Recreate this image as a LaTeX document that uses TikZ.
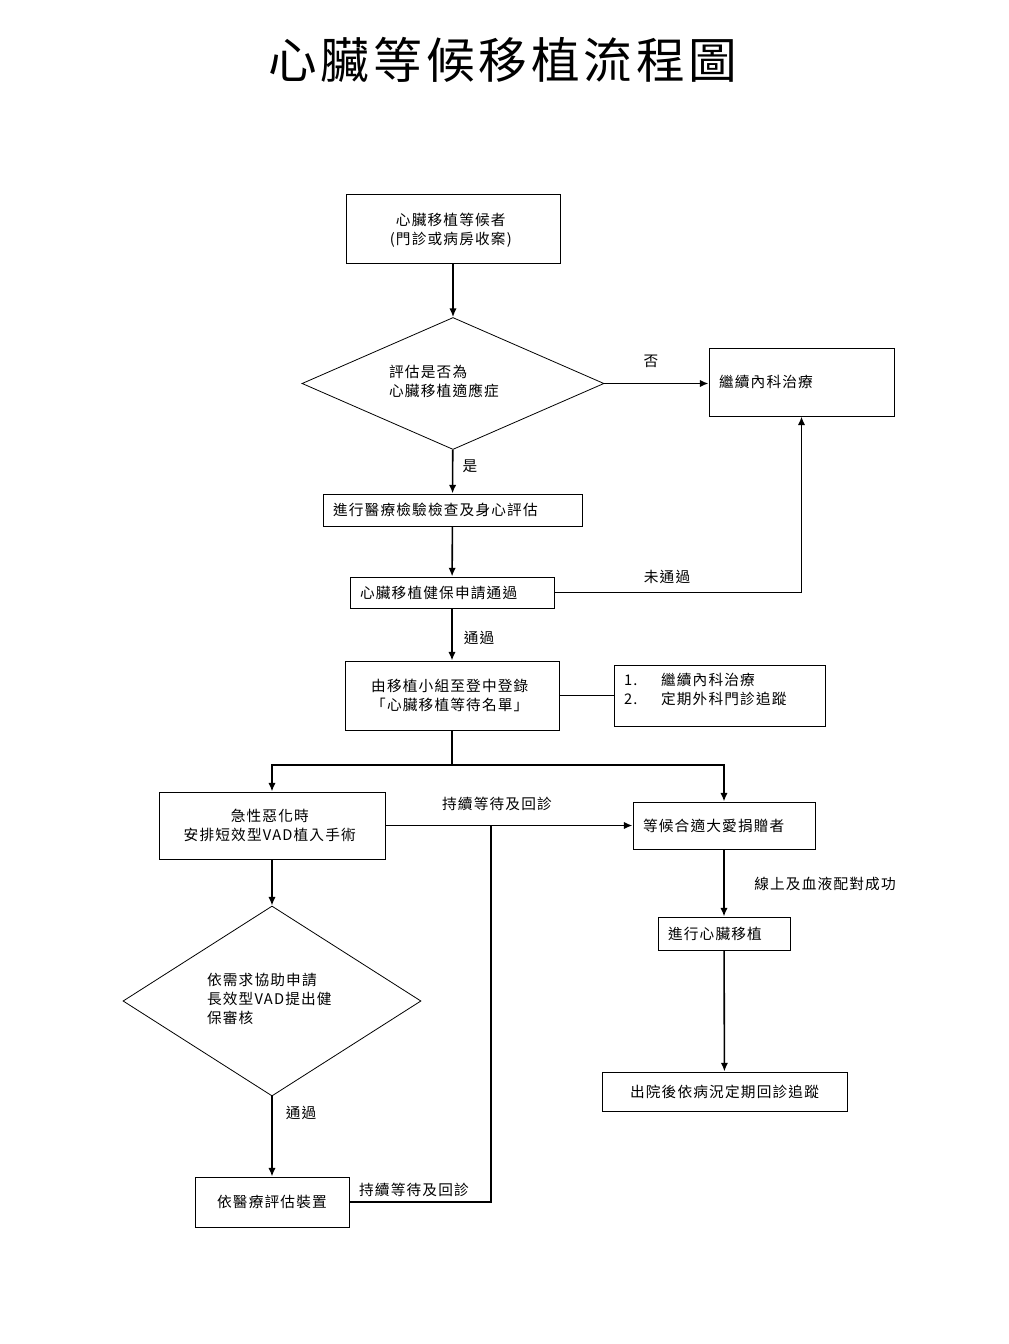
\documentclass[tikz,border=0pt]{standalone}
\usepackage{fontspec}
\setmainfont[LetterSpace=8]{Noto Sans CJK TC}
\usepackage{tikz}
\usetikzlibrary{shapes.geometric, arrows.meta}

\tikzset{
  box/.style={rectangle, draw, line width=0.75pt, inner sep=0pt, align=center},
  leftbox/.style={rectangle, draw, line width=0.75pt, inner xsep=7.5pt, inner ysep=0pt, align=left},
  decision/.style={diamond, draw, line width=0.6pt, inner sep=0pt},
  link/.style={line width=1.2pt},
  flow/.style={link, ->}
}

\begin{document}
\begin{tikzpicture}[x=0.75pt, y=-0.75pt, >={Latex[length=6.5pt, width=5.5pt]}, font=\fontsize{11pt}{14.25pt}\selectfont]
  \useasboundingbox (0, 0) rectangle (1008, 1344);

  \node (title) at (503, 60) [font=\fontsize{36.5pt}{40pt}\selectfont] {心臟等候移植流程圖};

  \node (start) at (453, 229.5) [box, minimum width=160.5pt, minimum height=51.75pt, text depth=9.5pt] {
    \begin{tabular}{@{}c@{}}
      心臟移植等候者
      \\
      (門診或病房收案)
    \end{tabular}
  };

  \node (eval) at (453, 383.5) [decision, minimum width=226.5pt, minimum height=99pt, aspect=2.29] {
    \begin{tabular}{@{}l@{\hspace{13.5pt}}}
      評估是否為
      \\
      心臟移植適應症
    \end{tabular}
  };

  \node (medical) at (801.5, 382) [leftbox, text width=123.75pt, minimum height=51pt] {繼續內科治療};

  \node (exam) at (452.5, 510) [leftbox, text width=179.25pt, minimum height=24pt] {進行醫療檢驗檢查及身心評估};

  \node (insur) at (452, 592.5) [leftbox, text width=138pt, minimum height=23.25pt] {心臟移植健保申請通過};

  \node (listing) at (452, 695.5) [box, minimum width=160.5pt, minimum height=51.75pt, text depth=9.5pt] {
    \begin{tabular}{@{}c@{}}
      由移植小組至登中登錄
      \\
      「心臟移植等待名單」
    \end{tabular}
  };

  \node (follow) at (719.5, 695.5) [leftbox, text width=143.25pt, minimum height=45.75pt, text depth=18.5pt] {
    \begin{tabular}{@{}p{27.75pt}@{}l@{}}
      1. & 繼續內科治療
      \\
      2. & 定期外科門診追蹤
    \end{tabular}
  };

  \node (vad) at (272, 825.5) [box, minimum width=169.5pt, minimum height=50.25pt, text depth=9.5pt] {
    \begin{tabular}{@{}c@{}}
      急性惡化時
      \\
      安排短效型VAD植入手術
    \end{tabular}
  };

  \node (donor) at (724, 825.5) [leftbox, text width=121.5pt, minimum height=35.25pt] {等候合適大愛捐贈者};

  \node (transplant) at (724, 933.5) [leftbox, text width=84pt, minimum height=24.75pt] {進行心臟移植};

  \node (discharge) at (724.5, 1091.5) [box, minimum width=183.75pt, minimum height=29.25pt] {出院後依病況定期回診追蹤};

  \node (longvad) at (272, 1001) [decision, minimum width=223.5pt, minimum height=142.5pt, aspect=1.57] {
    \begin{tabular}{@{}l@{\hspace{4pt}}}
      依需求協助申請
      \\
      長效型VAD提出健
      \\
      保審核
    \end{tabular}
  };

  \node (device) at (272, 1202) [box, minimum width=115.5pt, minimum height=37.5pt] {依醫療評估裝置};

  \coordinate (split) at (452, 765);
  \coordinate (join) at (491, 825.5);

  % connectors
  \draw[flow] (start) -- (eval);
  \draw[flow] (eval.east) -- (eval.east -| medical.west);
  \draw[flow] (eval) -- (exam);
  \draw[flow] (exam) -- (insur);
  \draw[flow] (insur.east) -| (medical.south);
  \draw[flow] (insur) -- (listing);
  \draw[link] (listing) -- (follow);
  \draw[link] (listing) -- (split);
  \draw[flow] (split) -| (vad);
  \draw[flow] (split) -| (donor);
  \draw[flow] (vad) -- (donor);
  \draw[link] (device.east) -| (join);
  \draw[flow] (vad) -- (longvad);
  \draw[flow] (longvad) -- (device);
  \draw[flow] (donor) -- (transplant);
  \draw[flow] (transplant) -- (discharge);

  % labels
  \node (lblno) at (651, 361) {否};
  \node (lblyes) at (470, 466) {是};
  \node (lblfail) at (667, 577) {未通過};
  \node (lblpass) at (479, 638) {通過};
  \node (lblwait) at (497, 804) {持續等待及回診};
  \node (lblmatch) at (825, 884) {線上及血液配對成功};
  \node (lblpassb) at (301, 1113) {通過};
  \node (lblwaitb) at (414, 1190) {持續等待及回診};
\end{tikzpicture}
\end{document}
